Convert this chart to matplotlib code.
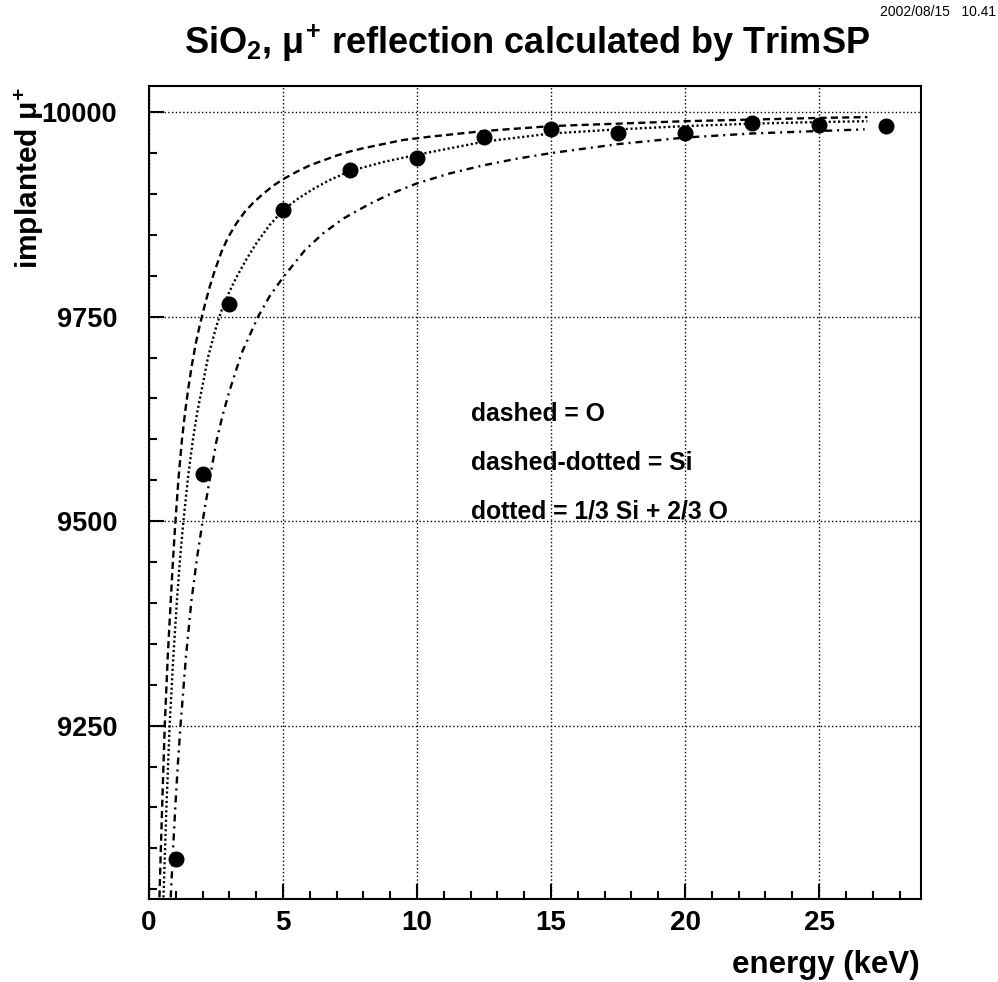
import matplotlib
matplotlib.use("Agg")
import matplotlib.pyplot as plt
from matplotlib.ticker import MultipleLocator

plt.rcParams["font.family"] = ["Liberation Sans", "DejaVu Sans"]
plt.rcParams["font.weight"] = "bold"
plt.rcParams["mathtext.fontset"] = "custom"
plt.rcParams["mathtext.rm"] = "Liberation Sans"
plt.rcParams["mathtext.it"] = "Liberation Sans"
plt.rcParams["mathtext.bf"] = "Liberation Sans:bold"

# --- TrimSP points: energy (keV) vs implanted muons ---
energy = [1, 2, 3, 5, 7.5, 10, 12.5, 15, 17.5, 20, 22.5, 25, 27.5]
implanted = [9087, 9558, 9766, 9881, 9929, 9944, 9970, 9980, 9974, 9975, 9987, 9984, 9983]

# --- curves ---
# dashed: O
o_e = [0.39, 0.44, 0.49, 0.54, 0.59, 0.70, 0.81, 0.90, 0.98, 1.10, 1.23, 1.35, 1.46,
       1.60, 1.75, 1.89, 2.08, 2.26, 2.45, 2.70, 2.95, 3.26, 3.57, 3.88, 4.25, 4.63,
       5.0, 5.5, 6.0, 6.5, 7.0, 7.5, 8.0, 8.73, 9.48, 10.47, 12.5, 15, 17.5, 20,
       22.5, 25, 26.8]
o_n = [9040, 9097, 9150, 9202, 9252, 9335, 9402, 9455, 9497, 9552, 9600, 9634, 9661,
       9691, 9718, 9739, 9764, 9786, 9806, 9829, 9847, 9864, 9878, 9889, 9900, 9910,
       9918, 9927, 9935, 9941, 9947, 9952, 9956, 9961, 9966, 9970, 9977, 9983, 9986, 9989,
       9991, 9993, 9994]

# dashed-dotted: Si
si_e = [0.81, 0.90, 0.98, 1.08, 1.18, 1.38, 1.58, 1.80, 2.01, 2.25, 2.51, 2.75, 3.01,
        3.45, 4.07, 4.5, 5.0, 5.81, 6.5, 7.25, 8.24, 9.0, 10, 11.2, 12.47, 13.7, 15,
        17.5, 20, 22.5, 25, 26.7]
si_n = [9040, 9100, 9150, 9205, 9252, 9335, 9402, 9457, 9502, 9548, 9597, 9630, 9660,
        9705, 9750, 9775, 9798, 9831, 9852, 9870, 9888, 9900, 9913, 9925, 9935, 9943, 9950,
        9961, 9969, 9974, 9977, 9979]

# dotted: 1/3 Si + 2/3 O
mix_e = [0.54, 0.60, 0.65, 0.71, 0.77, 0.90, 1.04, 1.16, 1.29, 1.46, 1.64, 1.80, 1.95,
         2.20, 2.51, 2.70, 2.99, 3.26, 3.63, 4.01, 4.5, 5.0, 5.5, 6.12, 6.74, 7.49, 8.73,
         10, 12.5, 15, 17.5, 20, 22.5, 25, 26.8]
mix_n = [9040, 9100, 9150, 9200, 9250, 9330, 9402, 9455, 9502, 9555, 9600, 9633, 9658,
         9700, 9738, 9757, 9780, 9798, 9820, 9840, 9862, 9880, 9893, 9906, 9917, 9928, 9939,
         9948, 9964, 9974, 9979, 9983, 9986, 9988, 9989]

xticks = [0, 5, 10, 15, 20, 25]
yticks = [9250, 9500, 9750, 10000]

fig = plt.figure(figsize=(9.98, 9.82), dpi=100)
ax = fig.add_axes([0.1493, 0.0845, 0.7735, 0.8279])

lw = 1.7
ax.plot(o_e, o_n, color="black", lw=lw, dashes=(3.0, 1.8))
ax.plot(si_e, si_n, color="black", lw=lw, dashes=(3.0, 2.1, 0.85, 2.1))
ax.plot(mix_e, mix_n, color="black", lw=lw, dashes=(0.9, 1.1))
ax.plot(energy, implanted, "o", color="black", ms=10.5, zorder=5)

ax.set_xlim(0, 28.8)
ax.set_ylim(9038, 10032)
ax.set_xticks(xticks)
ax.set_yticks(yticks)
ax.xaxis.set_minor_locator(MultipleLocator(1))
ax.yaxis.set_minor_locator(MultipleLocator(50))
ax.tick_params(which="both", direction="in", top=False, right=False, width=1.5)
ax.tick_params(which="major", length=11)
ax.tick_params(which="minor", length=6)
ax.tick_params(axis="x", labelsize=20, pad=8)
ax.tick_params(axis="y", labelsize=19.5, pad=23)
for sp in ax.spines.values():
    sp.set_linewidth(1.5)
ax.grid(True, which="major", color="black", lw=1.0, linestyle=(0, (1, 1.7)))

tx = 12
ax.text(tx, 9623, "dashed = O", fontsize=17.8, fontweight="bold")
ax.text(tx, 9562, "dashed-dotted = Si", fontsize=17.8, fontweight="bold")
ax.text(tx, 9503, "dotted = 1/3 Si + 2/3 O", fontsize=17.8, fontweight="bold")

fig.text(0.528, 1 - 43 / 982, r"SiO$_\mathbf{2}$, $\mu^\mathbf{+}$ reflection calculated by TrimSP",
         ha="center", va="center", fontsize=26, fontweight="bold")
fig.text(0.998, 1 - 12 / 982, "2002/08/15   10.41", ha="right", va="center",
         fontsize=10, fontweight="normal")
fig.text(920 / 998, 1 - 965 / 982, "energy (keV)", ha="right", va="center",
         fontsize=22.5, fontweight="bold")
fig.text(29 / 998, 1 - 87 / 982, r"implanted $\mu^\mathbf{+}$", ha="center", va="top",
         rotation=90, fontsize=21.5, fontweight="bold")

fig.savefig("out.png", dpi=100)
